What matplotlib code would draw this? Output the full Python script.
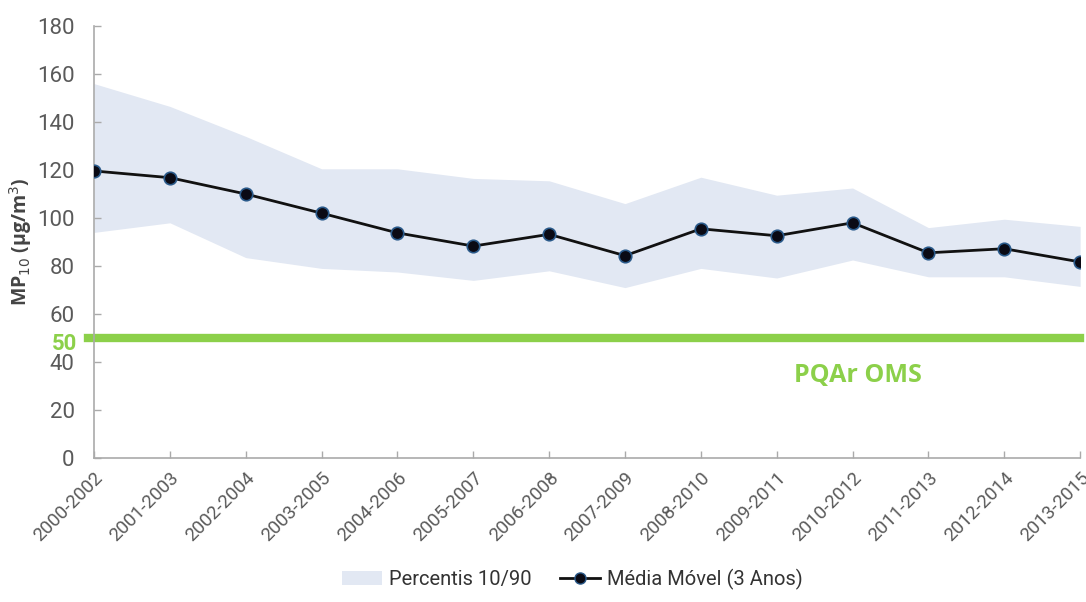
import numpy as np
import matplotlib.pyplot as plt
from matplotlib.patches import Patch
from matplotlib.lines import Line2D

periodos = ['2000-2002', '2001-2003', '2002-2004', '2003-2005', '2004-2006',
            '2005-2007', '2006-2008', '2007-2009', '2008-2010', '2009-2011',
            '2010-2012', '2011-2013', '2012-2014', '2013-2015']
media = [119.6, 116.8, 110.0, 102.0, 93.8, 88.3, 93.2, 84.3, 95.5, 92.6,
         98.0, 85.5, 87.2, 81.7]
p90 = [156, 146.5, 134, 120.5, 120.5, 116.5, 115.5, 106, 117, 109.5,
       112.5, 96, 99.5, 96.5]
p10 = [94, 98, 83.5, 79, 77.5, 74, 78, 71, 79, 75, 82.5, 75.5, 75.5, 71.5]
pqar = 50
yticks = [0, 20, 40, 60, 80, 100, 120, 140, 160, 180]

band_col = '#e2e8f3'
green = '#8cd04a'
gray = '#5a5a5a'

plt.rcParams['font.family'] = ['Roboto', 'DejaVu Sans']

fig = plt.figure(figsize=(10.86, 6.02), dpi=100)
ax = fig.add_axes([0.0866, 0.2392, 0.908, 0.7176])

x = np.arange(len(periodos))
ax.fill_between(x, p10, p90, color=band_col, lw=0, zorder=1)
ax.plot(x, media, color='#111111', lw=2, marker='o', ms=9,
        mfc='#0a0a14', mec='#2a5a8a', mew=1.2, zorder=3)
ax.axhline(pqar, color=green, lw=6, zorder=2, xmin=-0.006, clip_on=False)

ax.set_xlim(0, len(periodos) - 1)
ax.set_ylim(0, 180)
ax.set_yticks(yticks)
ax.set_yticklabels([str(v) for v in yticks], fontsize=16, color=gray)
ax.set_xticks(x)
ax.set_xticklabels(periodos, rotation=45, ha='right', rotation_mode='anchor',
                   fontsize=13.5, color=gray)
ax.tick_params(axis='both', direction='in', length=5, color='#aaaaaa', width=1)
ax.tick_params(axis='y', pad=14)
ax.tick_params(axis='x', pad=8)

for s in ['top', 'right']:
    ax.spines[s].set_visible(False)
for s in ['left', 'bottom']:
    ax.spines[s].set_color('#aaaaaa')
    ax.spines[s].set_linewidth(1.2)

ax.text(-0.0175, pqar - 2.5, '50', transform=ax.get_yaxis_transform(), color=green,
        fontsize=16, fontweight='bold', ha='right', va='center')
ax.text(0.775, 0.192, 'PQAr OMS', transform=ax.transAxes, color=green,
        fontsize=18, fontweight='bold', ha='center', va='center',
        family=['Open Sans', 'DejaVu Sans'])

ax.set_ylabel('MP$_{10}$ (µg/m$^3$)', fontsize=14, fontweight='bold',
              color='#444444', labelpad=2, family=['Open Sans', 'DejaVu Sans'])

handles = [Patch(facecolor=band_col, edgecolor='none'),
           Line2D([], [], color='#111111', lw=2, marker='o', ms=8,
                  mfc='#0a0a14', mec='#2a5a8a')]
fig.legend(handles, ['Percentis 10/90', 'Média Móvel (3 Anos)'],
           loc='lower center', bbox_to_anchor=(0.527, -0.01), ncol=2,
           frameon=False, fontsize=14.5, labelcolor='#333333',
           handlelength=2.0, handletextpad=0.35, columnspacing=1.4)

fig.savefig('out.png', dpi=100)
